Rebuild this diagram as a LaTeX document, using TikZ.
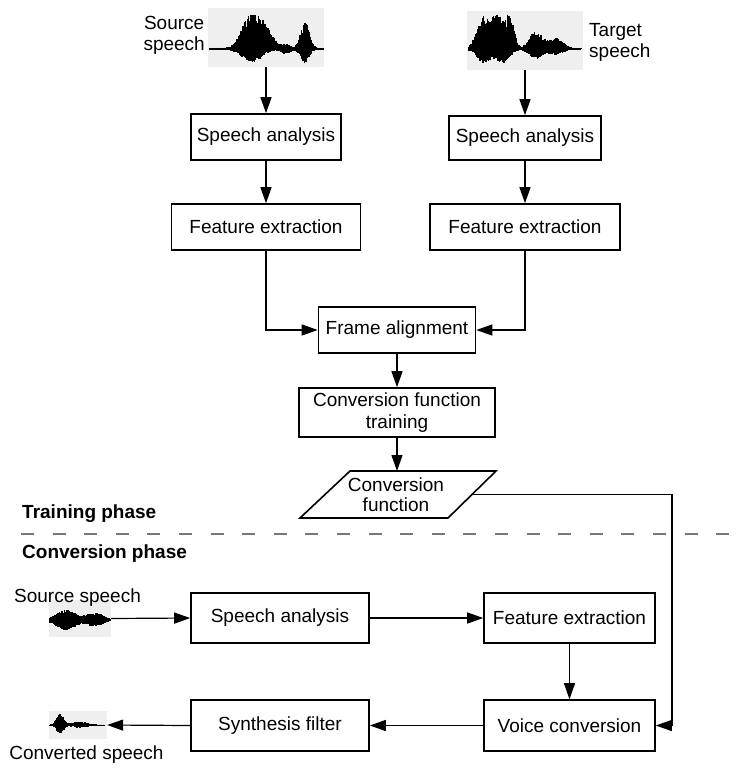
\documentclass[tikz,border=0pt]{standalone}
\usepackage{fontspec}
\setmainfont{Liberation Sans}
\usetikzlibrary{arrows.meta,calc}
\definecolor{wavebg}{HTML}{EFEFEF}
\definecolor{dashgray}{HTML}{777777}
\newcommand{\wgb}[3]{#1*exp(-min(9,((\x-#2)/#3)^2))}
\tikzset{
  blk/.style={draw, line width=1.6pt, inner sep=0pt, align=center, font=\fontsize{19}{22}\selectfont},
  arr/.style={line width=1.2pt, -{Triangle[length=16pt,width=11pt]}},
  ln/.style={line width=1.2pt},
  lbl/.style={inner sep=0pt, align=center, font=\fontsize{19}{21}\selectfont},
  phase/.style={inner sep=0pt, anchor=west, font=\fontsize{19}{21}\selectfont\bfseries},
  wavebox/.style={fill=wavebg, draw=none, inner sep=0pt},
  wl/.style={line width=1.3pt},
}
\begin{document}
\begin{tikzpicture}[x=1pt,y=-1pt]
\useasboundingbox (0,0) rectangle (744,768);

% ---------- waveforms (training) ----------
\node[wavebox, minimum width=116pt, minimum height=59pt] (srcw) at (266,37.5) {};
\node[wavebox, minimum width=116pt, minimum height=59pt] (tgtw) at (525,40.5) {};
\pgfmathsetseed{11}
\foreach \x in {210,210.5,...,323}{
  \pgfmathsetmacro\u{(1.2+\wgb{36}{251}{12}+\wgb{18}{267}{9}+\wgb{4}{286}{6}+\wgb{26}{305}{6})*(0.6+0.4*rnd)}
  \pgfmathsetmacro\d{(0.8+\wgb{13}{252}{13}+\wgb{5}{286}{6}+\wgb{13}{305}{6})*(0.6+0.4*rnd)}
  \draw[wl] (\x,49-\u) -- (\x,49+\d);
}
\foreach \x in {469,469.5,...,581}{
  \pgfmathsetmacro\u{(1+\wgb{30}{482}{8}+\wgb{34}{497}{9}+\wgb{29}{510}{6}+\wgb{17}{536}{9}+\wgb{10}{556}{10})*(0.6+0.4*rnd)}
  \pgfmathsetmacro\d{(0.8+\wgb{14}{484}{9}+\wgb{14}{503}{9}+\wgb{9}{536}{9}+\wgb{5}{556}{10})*(0.6+0.4*rnd)}
  \draw[wl] (\x,49-\u) -- (\x,49+\d);
}
\node[lbl, anchor=east] (srcl) at (205,35) {Source\\speech};
\node[lbl, anchor=west, align=left] (tgtl) at (589,42) {Target\\speech};

% ---------- training blocks ----------
\node[blk, minimum width=150pt, minimum height=46pt] (sa1) at (266,137) {Speech analysis};
\node[blk, minimum width=152pt, minimum height=44pt] (sa2) at (525,138) {Speech analysis};
\node[blk, minimum width=189pt, minimum height=46pt] (fe1) at (266,227) {Feature extraction};
\node[blk, minimum width=190pt, minimum height=46pt] (fe2) at (525,227) {Feature extraction};
\node[blk, minimum width=157pt, minimum height=46pt] (fa) at (397,330) {Frame alignment};
\node[blk, minimum width=196pt, minimum height=49pt] (cft) at (397,412.5) {Conversion function\\training};
\node[lbl, font=\fontsize{19}{20.5}\selectfont] (cf) at (396,494.5) {Conversion\\function};
\draw[line width=1.6pt] ($(cf)+(-96,23.5)$) -- ($(cf)+(-46,-23.5)$) -- ($(cf)+(100,-23.5)$) -- ($(cf)+(52,23.5)$) -- cycle;
\coordinate (cfR) at ($(cf)+(76,0)$);
\coordinate (cfT) at ($(cf)+(1,-23.5)$);

\draw[arr] (srcw.south) -- (sa1.north);
\draw[arr] (tgtw.south) -- (sa2.north);
\draw[arr] (sa1.south) -- (fe1.north);
\draw[arr] (sa2.south) -- (fe2.north);
\draw[arr] (fe1.south) |- (fa.west);
\draw[arr] (fe2.south) |- (fa.east);
\draw[arr] (fa.south) -- (cft.north);
\draw[arr] (cft.south) -- (cfT);

% ---------- phase separator ----------
\node[phase] (tp) at (22,514) {Training phase};
\coordinate (dl) at (21,533.5);
\coordinate (dr) at (744,533.5);
\draw[dashgray, line width=2pt, dash pattern=on 13pt off 18.6pt] (dl) -- (dr);
\node[phase] (cp) at (22,553.5) {Conversion phase};

% ---------- conversion row ----------
\node[wavebox, minimum width=62pt, minimum height=37pt] (srcw2) at (80,618.5) {};
\node[wavebox, minimum width=58pt, minimum height=28pt] (cvw) at (78,725) {};
\pgfmathsetseed{5}
\foreach \x in {50,50.5,...,110}{
  \pgfmathsetmacro\u{(0.6+\wgb{10}{66}{13}+\wgb{7}{95}{11})*(0.6+0.4*rnd)}
  \pgfmathsetmacro\d{(0.6+\wgb{10}{66}{13}+\wgb{6}{95}{11})*(0.6+0.4*rnd)}
  \draw[wl] (\x,620-\u) -- (\x,620+\d);
}
\foreach \x in {50,50.5,...,104}{
  \pgfmathsetmacro\u{(0.4+\wgb{12}{60}{5}+\wgb{3}{80}{10})*(0.6+0.4*rnd)}
  \pgfmathsetmacro\d{(0.4+\wgb{8}{60}{5}+\wgb{2.5}{80}{10})*(0.6+0.4*rnd)}
  \draw[wl] (\x,725-\u) -- (\x,725+\d);
}
\node[lbl] (srcl2) at (77.5,598) {Source speech};
\node[lbl] (cvl) at (86.5,755) {Converted speech};

\node[blk, minimum width=178pt, minimum height=50pt] (sa3) at (280,618) {Speech analysis};
\node[blk, minimum width=171pt, minimum height=50pt] (fe3) at (569.5,618) {Feature extraction};
\node[blk, minimum width=171pt, minimum height=51pt] (vc) at (569.5,725.5) {Voice conversion};
\node[blk, minimum width=178pt, minimum height=51pt] (sf) at (280,725.5) {Synthesis filter};

\draw[arr] (srcw2.east) -- (sa3.west);
\draw[arr] (sa3.east) -- (fe3.west);
\draw[arr] (fe3.south) -- (vc.north);
\draw[arr] (vc.west) -- (sf.east);
\draw[arr] (sf.west) -- (cvw.east);
\coordinate (corner) at (672,494.5);
\draw[arr] (cfR) -- (corner) |- (vc.east);
\end{tikzpicture}
\end{document}
